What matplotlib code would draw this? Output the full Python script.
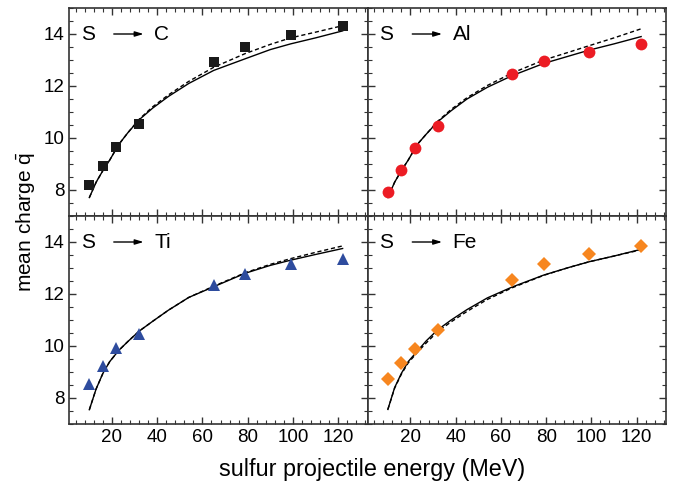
import numpy as np
import matplotlib.pyplot as plt
from matplotlib.ticker import MultipleLocator

plt.rcParams["font.family"] = ["Liberation Sans", "DejaVu Sans"]
plt.rcParams["mathtext.fontset"] = "custom"
plt.rcParams["mathtext.rm"] = "Liberation Sans"
plt.rcParams["mathtext.it"] = "Liberation Sans"

## measured data
energy = [10, 16, 22, 32, 65, 79, 99, 122]
q_C = [8.19, 8.93, 9.65, 10.52, 12.92, 13.5, 13.95, 14.3]
q_Al = [7.94, 8.76, 9.61, 10.47, 12.45, 12.96, 13.3, 13.62]
q_Ti = [8.52, 9.23, 9.93, 10.46, 12.33, 12.77, 13.17, 13.33]
q_Fe = [8.73, 9.35, 9.89, 10.62, 12.52, 13.14, 13.52, 13.83]

## calculated curves
e_calc = [10, 13, 16, 19, 23, 27, 32, 38, 45, 54, 65, 79, 90, 99, 110, 122]
C_solid = [7.71, 8.3, 8.75, 9.15, 9.75, 10.2, 10.7, 11.15, 11.6, 12.1, 12.6, 13.05, 13.4, 13.62, 13.85, 14.12]
C_dash = [7.71, 8.3, 8.75, 9.15, 9.75, 10.2, 10.72, 11.2, 11.66, 12.18, 12.72, 13.25, 13.6, 13.85, 14.07, 14.32]
Al_solid = [7.71, 8.3, 8.75, 9.15, 9.75, 10.15, 10.62, 11.05, 11.5, 11.95, 12.4, 12.87, 13.15, 13.38, 13.62, 13.9]
Al_dash = [7.71, 8.3, 8.75, 9.15, 9.75, 10.15, 10.64, 11.1, 11.55, 12.02, 12.5, 13.0, 13.3, 13.55, 13.85, 14.2]
Ti_solid = [7.55, 8.35, 8.95, 9.4, 9.83, 10.17, 10.57, 10.95, 11.38, 11.87, 12.28, 12.8, 13.1, 13.3, 13.52, 13.75]
Ti_dash = [7.55, 8.35, 8.95, 9.4, 9.83, 10.17, 10.57, 10.95, 11.38, 11.87, 12.3, 12.82, 13.14, 13.36, 13.6, 13.85]
Fe_solid = [7.56, 8.4, 8.95, 9.4, 9.8, 10.2, 10.62, 11.0, 11.4, 11.85, 12.27, 12.73, 13.02, 13.24, 13.46, 13.72]
Fe_dash = [7.56, 8.38, 8.92, 9.35, 9.75, 10.12, 10.55, 10.93, 11.33, 11.79, 12.24, 12.72, 13.02, 13.24, 13.46, 13.7]

panels = [
	("C", q_C, C_solid, C_dash, "s", "#1a1a1a", 7.8),
	("Al", q_Al, Al_solid, Al_dash, "o", "#ec1c24", 8.5),
	("Ti", q_Ti, Ti_solid, Ti_dash, "^", "#2e4c9e", 8.5),
	("Fe", q_Fe, Fe_solid, Fe_dash, "D", "#f7861f", 7),
	]

fig, axes = plt.subplots(
	2, 2,
	figsize=(6.77, 4.83),
	dpi=100,
	sharex=True,
	sharey=True)
fig.subplots_adjust(
	left=69 / 677,
	right=666 / 677,
	top=1 - 8 / 483,
	bottom=1 - 424 / 483,
	hspace=0,
	wspace=0)

for ax, (target, q, solid, dash, marker, color, ms) in zip(axes.flat, panels):
	ax.plot(
		e_calc,
		solid,
		color="black",
		linewidth=1.0,
		linestyle="-")
	ax.plot(
		e_calc,
		dash,
		color="black",
		linewidth=1.0,
		linestyle=(0, (3, 2)))
	ax.plot(
		energy,
		q,
		linestyle="none",
		marker=marker,
		markersize=ms,
		color=color,
		markeredgewidth=0)
	## label "S -> X"
	ax.text(
		0.04, 14, "S",
		transform=ax.get_yaxis_transform(),
		fontsize=15, va="center", ha="left")
	ax.annotate(
		"",
		xy=(0.25, 14), xycoords=ax.get_yaxis_transform(),
		xytext=(0.15, 14), textcoords=ax.get_yaxis_transform(),
		arrowprops=dict(arrowstyle="-|>,head_length=0.5,head_width=0.15", color="black", linewidth=1.0, shrinkA=0, shrinkB=0))
	ax.text(
		0.285, 14, target,
		transform=ax.get_yaxis_transform(),
		fontsize=15, va="center", ha="left")
	## format
	ax.set_xlim([1, 133])
	ax.set_ylim([7, 15])
	ax.xaxis.set_major_locator(MultipleLocator(20))
	ax.xaxis.set_minor_locator(MultipleLocator(4))
	ax.yaxis.set_major_locator(MultipleLocator(2))
	ax.yaxis.set_minor_locator(MultipleLocator(0.5))
	ax.tick_params(
		which="both", direction="in", top=True, right=True,
		labelsize=13.5, color="#333333")
	ax.tick_params(which="major", length=5, width=1.0)
	ax.tick_params(which="minor", length=3, width=0.8)
	for sp in ax.spines.values():
		sp.set_linewidth(1.2)
		sp.set_color("#333333")

fig.text(
	0.037, 1 - 222 / 483,
	r"mean charge $\bar{\mathrm{q}}$",
	rotation=90, fontsize=15, ha="center", va="center")
fig.text(
	372 / 677, 7 / 483,
	"sulfur projectile energy (MeV)",
	fontsize=16.8, ha="center", va="baseline")

fig.savefig("out.png", dpi=100)
plt.close()
